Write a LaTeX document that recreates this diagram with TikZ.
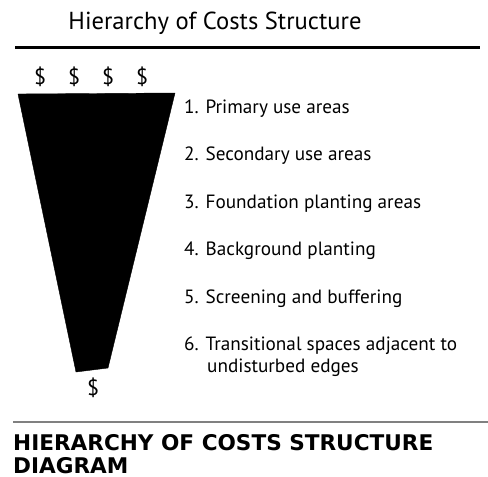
\documentclass[tikz,border=0pt]{standalone}
\usepackage{fontspec}
\setmainfont{PT Sans}
\newfontfamily\captionfont{DejaVu Sans}
\usetikzlibrary{positioning}
\tikzset{
myTitle/.style={
	anchor=base, inner sep=0pt,
	font=\fontsize{24.6}{28}\selectfont
}
, myItem/.style={
	anchor=base west, inner sep=0pt,
	font=\fontsize{19.2}{21.5}\selectfont
}
, myDollar/.style={
	anchor=base, inner sep=0pt,
	font=\fontsize{22}{24}\selectfont
}
, myCaption/.style={
	anchor=base west, inner sep=0pt,
	font=\fontsize{21.6}{23}\selectfont\captionfont\bfseries
}
% lines
, myRule/.style={line width=3pt, black}
, myGrayRule/.style={line width=2pt, black!50}
, myFunnel/.style={fill=black, draw=black, line join=round}
}

\begin{document}
\begin{tikzpicture}[x=1pt,y=-1pt]
	\useasboundingbox (0,0) rectangle (488,477);
	% title
	\node[myTitle] (Title) at (215,29) {Hierarchy of Costs Structure};
	\coordinate (RuleL) at (15,47);
	\coordinate (RuleR) at (480,47);
	\draw [myRule] (RuleL) -- (RuleR);
	% dollars
	\node[myDollar] (D1) at ( 40,84) {\$};
	\node[myDollar] (D2) at ( 74,84) {\$};
	\node[myDollar] (D3) at (108,84) {\$};
	\node[myDollar] (D4) at (142,84) {\$};
	% funnel
	\coordinate (FunTL) at (18,94);
	\coordinate (FunTR) at (175,93);
	\coordinate (FunBR) at (108,368);
	\coordinate (FunBL) at (76,372);
	\path[myFunnel] (FunTL) -- (FunTR) -- (FunBR) -- (FunBL) -- cycle;
	\node[myDollar] (DB) at (93,395) {\$};
	% items
	\node[myItem] (I1) at (184,113) {1. Primary use areas};
	\node[myItem] (I2) at (184,160.5) {2. Secondary use areas};
	\node[myItem] (I3) at (184,208) {3. Foundation planting areas};
	\node[myItem] (I4) at (184,255.5) {4. Background planting};
	\node[myItem] (I5) at (184,303) {5. Screening and buffering};
	\node[myItem] (I6) at (184,350.5) {6. Transitional spaces adjacent to};
	\node[myItem] (I6b) at (207,372) {undisturbed edges};
	% caption
	\coordinate (GrayL) at (13,422);
	\coordinate (GrayR) at (488,422);
	\draw [myGrayRule] (GrayL) -- (GrayR);
	\node[myCaption] (Caption) at (13,450.5) {HIERARCHY OF COSTS STRUCTURE};
	\node[myCaption] (CaptionB) at (13,473) {DIAGRAM};
\end{tikzpicture}
\end{document}
